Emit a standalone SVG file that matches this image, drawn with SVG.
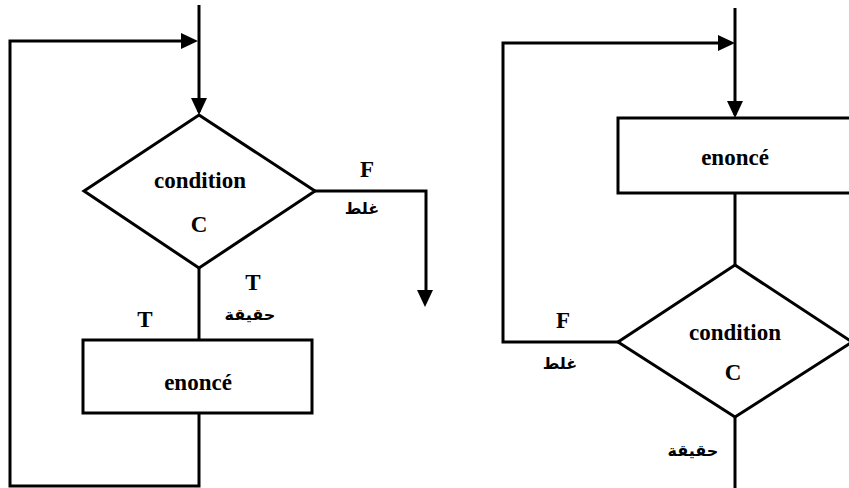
<svg xmlns="http://www.w3.org/2000/svg" width="849" height="488" viewBox="0 0 849 488">
  <style>
    .shape { fill: #fff; stroke: #000; stroke-width: 3; }
    .wire { fill: none; stroke: #000; stroke-width: 3; }
    .lbl { font-family: "Liberation Serif", "Times New Roman", serif; font-weight: bold; font-size: 23px; fill: #000; text-anchor: middle; }
    .ar { font-family: "DejaVu Sans", "Noto Sans", sans-serif; font-weight: bold; font-size: 16px; fill: #000; text-anchor: middle; }
  </style>
  <defs>
    <!-- filled arrowhead, tip at the origin, pointing down -->
    <path id="ah" d="M-8,-17 L8,-17 L0,0 z" fill="#000"/>
  </defs>
  <rect width="849" height="488" fill="#fff"/>

  <!-- connectors -->
  <g id="connectors">
    <!-- while loop (left) -->
    <path class="wire" d="M199,5 V112"/>
    <path class="wire" d="M199,268 V340"/>
    <path class="wire" d="M199,413 V486 H10 V41 H190"/>
    <path class="wire" d="M315,191 H426 V292"/>
    <use href="#ah" transform="translate(199,115)"/>
    <use href="#ah" transform="translate(198,41) rotate(-90)"/>
    <use href="#ah" transform="translate(425,307)"/>
    <!-- do-while loop (right) -->
    <path class="wire" d="M735,8 V115"/>
    <path class="wire" d="M735,193 V265"/>
    <path class="wire" d="M735,417 V488"/>
    <path class="wire" d="M618,342 H503 V43 H725"/>
    <use href="#ah" transform="translate(735,118)"/>
    <use href="#ah" transform="translate(735,43) rotate(-90)"/>
  </g>

  <!-- left: test before body -->
  <g id="cond-left">
    <polygon class="shape" points="199,115 315,191 199,268 84,191"/>
    <text class="lbl" x="200" y="188">condition</text>
    <text class="lbl" x="199" y="232">C</text>
  </g>
  <g id="body-left">
    <rect class="shape" x="83" y="340" width="229" height="73"/>
    <text class="lbl" x="198" y="390">enoncé</text>
  </g>
  <g id="labels-left">
    <text class="lbl" x="367" y="177">F</text>
    <text class="ar" x="362" y="214">غلط</text>
    <text class="lbl" x="253" y="290">T</text>
    <text class="ar" x="250" y="320">حقيقة</text>
    <text class="lbl" x="145" y="327">T</text>
  </g>

  <!-- right: body before test -->
  <g id="body-right">
    <rect class="shape" x="618" y="118" width="234" height="75"/>
    <text class="lbl" x="735" y="165">enoncé</text>
  </g>
  <g id="cond-right">
    <polygon class="shape" points="735,265 852,342 735,417 618,342"/>
    <text class="lbl" x="735" y="340">condition</text>
    <text class="lbl" x="733" y="380">C</text>
  </g>
  <g id="labels-right">
    <text class="lbl" x="563" y="328">F</text>
    <text class="ar" x="560" y="369">غلط</text>
    <text class="ar" x="693" y="456">حقيقة</text>
  </g>
</svg>
